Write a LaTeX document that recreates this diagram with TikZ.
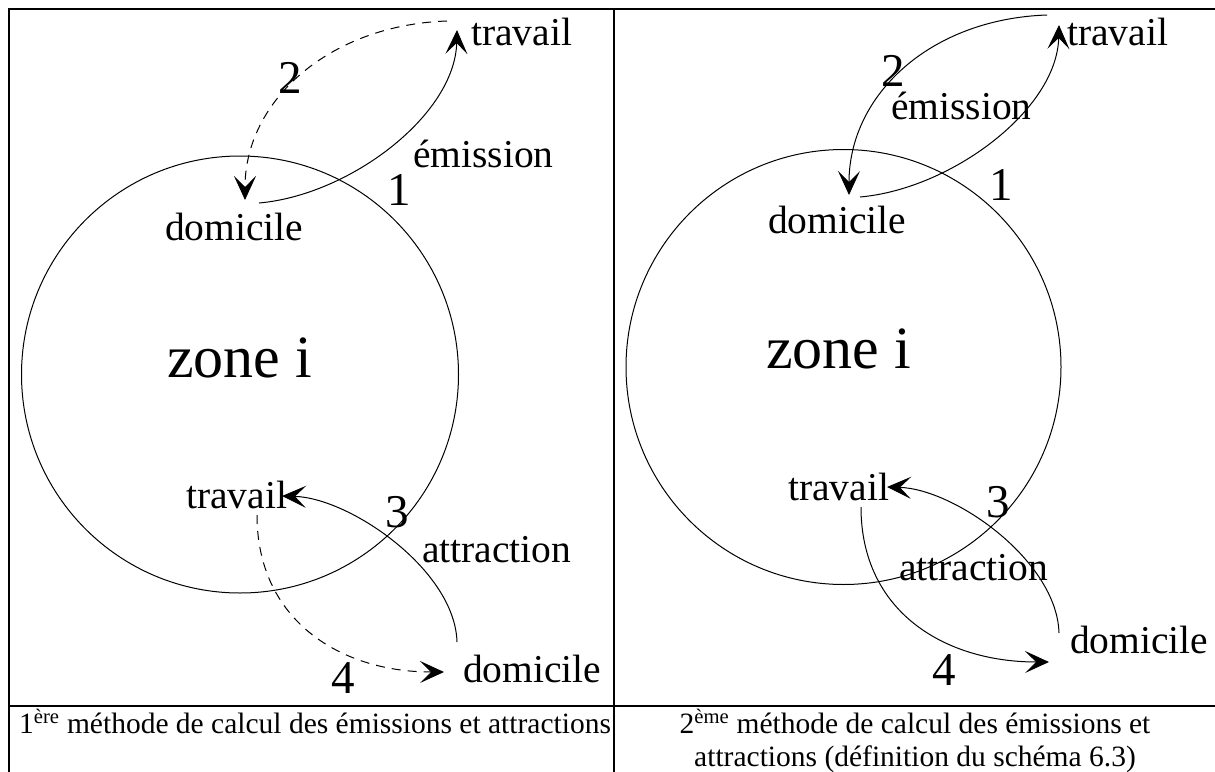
\documentclass[tikz,border=0pt]{standalone}
\usepackage{fontspec}
\setmainfont{Liberation Serif}
\usetikzlibrary{arrows.meta}

\begin{document}
\begin{tikzpicture}[x=1pt, y=-1pt,
  lbl/.style={anchor=base west, inner sep=0pt, font=\fontsize{39.5}{47}\selectfont},
  num/.style={anchor=base west, inner sep=0pt, font=\fontsize{47}{56}\selectfont},
  zone/.style={anchor=base west, inner sep=0pt, font=\fontsize{60}{72}\selectfont},
  captxt/.style={anchor=base, inner sep=0pt, font=\fontsize{29.5}{34}\selectfont},
  flow/.style={line width=1pt, -{Stealth[length=24pt, width=22pt, inset=11pt]}},
  back/.style={flow, dash pattern=on 9pt off 7pt},
  rule/.style={line width=2.5pt, line cap=rect}]
  \useasboundingbox (0,0) rectangle (1215,771);
  % table frame
  \draw[rule] (1215,9) -- (9,9) -- (9,771);
  \draw[rule] (614,9) -- (614,771);
  \draw[rule] (9,706) -- (1215,706);
  % the two zones
  \draw[line width=1pt] (240,374.5) circle (218.5pt);
  \draw[line width=1pt] (843.5,367) circle (217.5pt);
  % left panel: labels
  \node[lbl] (tl1) at (471,45) {travail};
  \node[lbl] (em1) at (413,167) {émission};
  \node[lbl] (dl1) at (165,240) {domicile};
  \node[zone] (zl) at (167,377) {zone i};
  \node[num] (n1l) at (387,205) {1};
  \node[num] (n2l) at (278,93) {2};
  \node[lbl] (tl2) at (186,508) {travail};
  \node[num] (n3l) at (385,527) {3};
  \node[lbl] (at1) at (422,562) {attraction};
  \node[num] (n4l) at (331,693) {4};
  \node[lbl] (dl2) at (463,682) {domicile};
  % left panel: trips (dashed = return trip not counted)
  \coordinate (e1a) at (259,203); \coordinate (e1b) at (457,30);
  \draw[flow] (e1a) .. controls (350,195) and (455,115) .. (e1b);
  \coordinate (r1a) at (447,21); \coordinate (r1b) at (245,200);
  \draw[back] (r1a) .. controls (330,25) and (245,100) .. (r1b);
  \coordinate (a1a) at (457,642); \coordinate (a1b) at (282,496);
  \draw[flow] (a1a) .. controls (455,570) and (350,498) .. (a1b);
  \coordinate (d1a) at (257,515); \coordinate (d1b) at (444,672);
  \draw[back] (d1a) .. controls (257,620) and (340,672) .. (d1b);
  % right panel: labels
  \node[lbl] (tr1) at (1067,45) {travail};
  \node[lbl] (em2) at (891,119) {émission};
  \node[lbl] (dr1) at (768,233) {domicile};
  \node[zone] (zr) at (766,368) {zone i};
  \node[num] (n1r) at (989,200) {1};
  \node[num] (n2r) at (881,86) {2};
  \node[lbl] (tr2) at (788,500) {travail};
  \node[num] (n3r) at (986,517) {3};
  \node[lbl] (at2) at (899,580) {attraction};
  \node[num] (n4r) at (932,685) {4};
  \node[lbl] (dr2) at (1070,653) {domicile};
  % right panel: both legs counted
  \coordinate (e2a) at (860,197); \coordinate (e2b) at (1059,25);
  \draw[flow] (e2a) .. controls (951,189) and (1057,110) .. (e2b);
  \coordinate (r2a) at (1047,15); \coordinate (r2b) at (849,195);
  \draw[flow] (r2a) .. controls (930,19) and (849,95) .. (r2b);
  \coordinate (a2a) at (1059,633); \coordinate (a2b) at (887,487);
  \draw[flow] (a2a) .. controls (1057,561) and (955,489) .. (a2b);
  \coordinate (d2a) at (861,507); \coordinate (d2b) at (1049,662);
  \draw[flow] (d2a) .. controls (861,612) and (945,662) .. (d2b);
  % captions
  \node[captxt, anchor=base west] (c1) at (19,733)
    {1\textsuperscript{ère} méthode de calcul des émissions et attractions};
  \node[captxt] (c2a) at (915,733)
    {2\textsuperscript{ème} méthode de calcul des émissions et};
  \node[captxt] (c2b) at (915,766) {attractions (définition du schéma 6.3)};
\end{tikzpicture}
\end{document}
